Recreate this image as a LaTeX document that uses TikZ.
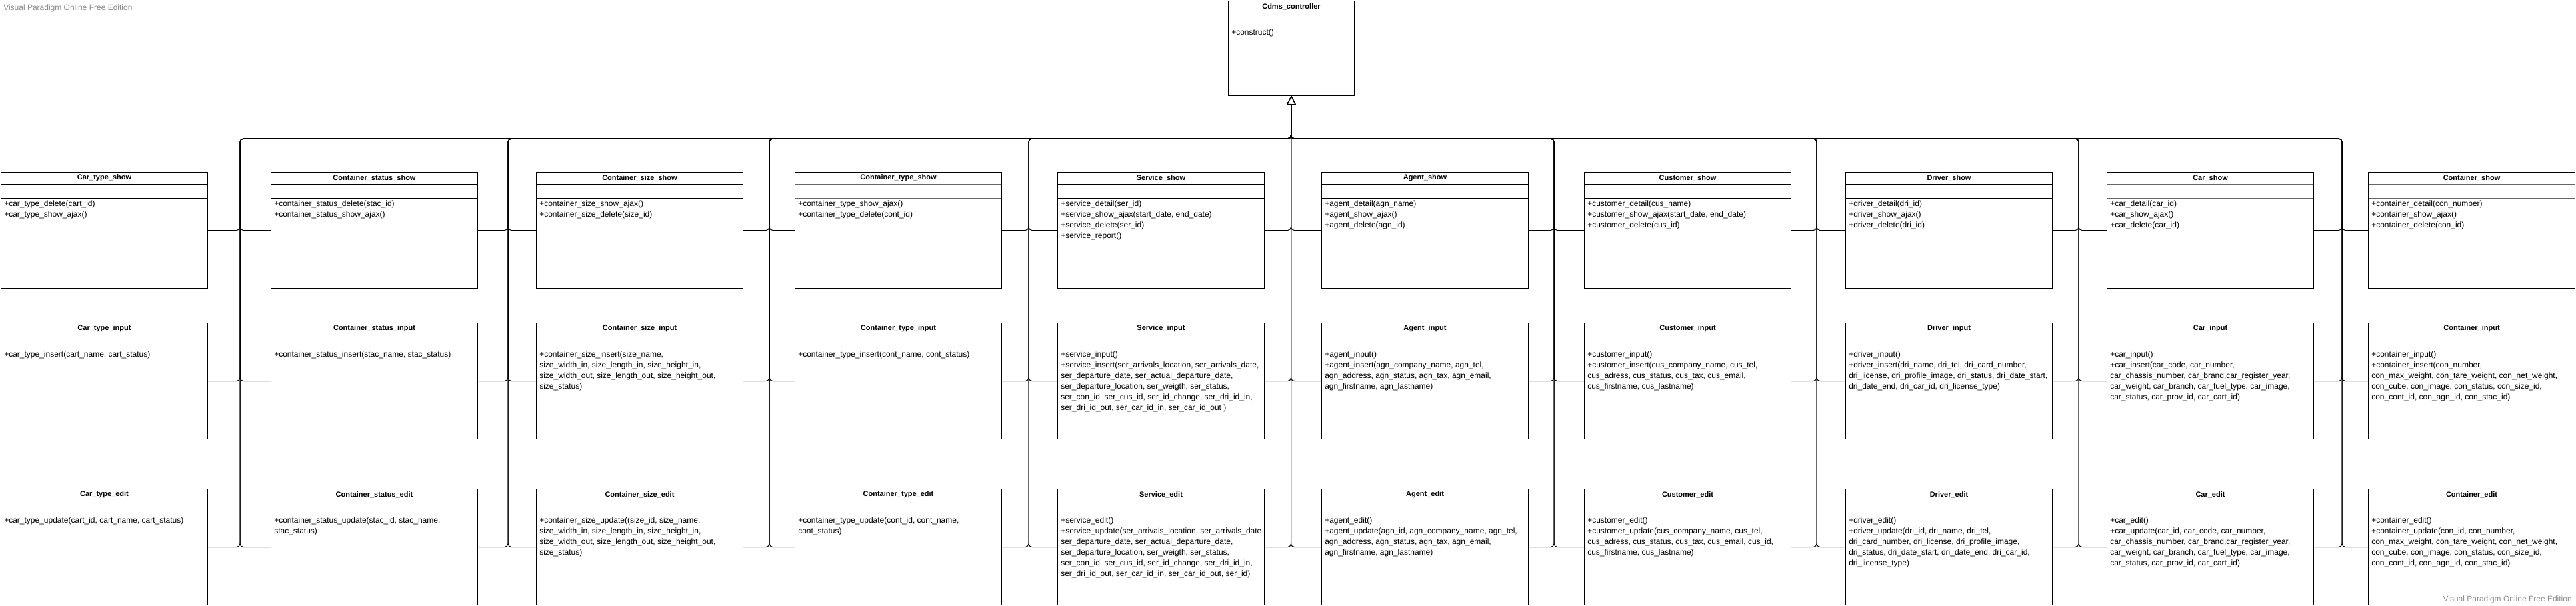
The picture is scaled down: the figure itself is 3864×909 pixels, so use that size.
\documentclass[tikz,border=0pt]{standalone}
\usepackage{fontspec}
\setmainfont{Liberation Sans}
\usepackage{tikz}
\usetikzlibrary{arrows.meta}
\tikzset{cls/.style={rectangle, draw, fill=white, line width=0.75pt, inner sep=0pt, anchor=north west, minimum width=232.5pt, minimum height=130.5pt,
  path picture={\draw[line width=0.75pt,#1] ([yshift=-13.5pt]path picture bounding box.north west) -- ([yshift=-13.5pt]path picture bounding box.north east);
  \draw[line width=0.75pt,#1] ([yshift=-29.25pt]path picture bounding box.north west) -- ([yshift=-29.25pt]path picture bounding box.north east);}},
  cls/.default={black}}
\tikzstyle{ttl}=[anchor=center, inner sep=0pt, font=\fontsize{8.25}{10}\selectfont\bfseries]
\tikzstyle{ops}=[anchor=north west, align=left, inner xsep=3.75pt, inner ysep=2.5pt, font=\fontsize{9}{12}\selectfont]
\tikzstyle{wm}=[inner sep=0pt, text=black!45, font=\fontsize{9}{10}\selectfont]
\tikzstyle{link}=[draw, line width=0.75pt, rounded corners=3.75pt, -{Triangle[open,length=9.75pt,width=9.75pt,fill=white]}]

\begin{document}
\begin{tikzpicture}[x=0.75pt,y=-0.75pt]
\path[use as bounding box, fill=white] (0,0) rectangle (3864,909);

\node[wm, anchor=west] (wmtop) at (5,12) {Visual Paradigm Online Free Edition};

%Controller
\node[cls, minimum width=141.75pt, minimum height=106.5pt] (cdms) at (1842,1) {};
\node[ttl] at ([yshift=-6.75pt]cdms.north) {Cdms\_controller};
\node[ops] at ([yshift=-29.25pt]cdms.north west) {+construct()};

%bus points
\coordinate (top) at (1936.5,208);
\coordinate (t1) at (360,208);
\coordinate (t2) at (762,208);
\coordinate (t3) at (1154,208);
\coordinate (t4) at (1543,208);
\coordinate (t6) at (2331,208);
\coordinate (t7) at (2725,208);
\coordinate (t8) at (3118,208);
\coordinate (t9) at (3513,208);

%Row One
\node[cls] (cts) at (1,258) {};
\node[ttl] at ([yshift=-6.75pt]cts.north) {Car\_type\_show};
\node[ops] at ([yshift=-29.25pt]cts.north west) {+car\_type\_delete(cart\_id)\\+car\_type\_show\_ajax()};
\node[cls] (sts) at (406,258) {};
\node[ttl] at ([yshift=-6.75pt]sts.north) {Container\_status\_show};
\node[ops] at ([yshift=-29.25pt]sts.north west) {+container\_status\_delete(stac\_id)\\+container\_status\_show\_ajax()};
\node[cls] (szs) at (804,258) {};
\node[ttl] at ([yshift=-6.75pt]szs.north) {Container\_size\_show};
\node[ops] at ([yshift=-29.25pt]szs.north west) {+container\_size\_show\_ajax()\\+container\_size\_delete(size\_id)};
\node[cls={black!60,line width=1.2pt}] (tys) at (1192,258) {};
\node[ttl] at ([yshift=-6.75pt]tys.north) {Container\_type\_show};
\node[ops] at ([yshift=-29.25pt]tys.north west) {+container\_type\_show\_ajax()\\+container\_type\_delete(cont\_id)};
\node[cls] (svs) at (1586,258) {};
\node[ttl] at ([yshift=-6.75pt]svs.north) {Service\_show};
\node[ops] at ([yshift=-29.25pt]svs.north west) {+service\_detail(ser\_id)\\+service\_show\_ajax(start\_date, end\_date)\\+service\_delete(ser\_id)\\+service\_report()};
\node[cls] (ags) at (1982,258) {};
\node[ttl] at ([yshift=-6.75pt]ags.north) {Agent\_show};
\node[ops] at ([yshift=-29.25pt]ags.north west) {+agent\_detail(agn\_name)\\+agent\_show\_ajax()\\+agent\_delete(agn\_id)};
\node[cls] (cus) at (2376,258) {};
\node[ttl] at ([yshift=-6.75pt]cus.north) {Customer\_show};
\node[ops] at ([yshift=-29.25pt]cus.north west) {+customer\_detail(cus\_name)\\+customer\_show\_ajax(start\_date, end\_date)\\+customer\_delete(cus\_id)};
\node[cls] (drs) at (2768,258) {};
\node[ttl] at ([yshift=-6.75pt]drs.north) {Driver\_show};
\node[ops] at ([yshift=-29.25pt]drs.north west) {+driver\_detail(dri\_id)\\+driver\_show\_ajax()\\+driver\_delete(dri\_id)};
\node[cls={black!60,line width=1.2pt}] (cas) at (3160,258) {};
\node[ttl] at ([yshift=-6.75pt]cas.north) {Car\_show};
\node[ops] at ([yshift=-29.25pt]cas.north west) {+car\_detail(car\_id)\\+car\_show\_ajax()\\+car\_delete(car\_id)};
\node[cls={black!60,line width=1.2pt}] (cos) at (3552,258) {};
\node[ttl] at ([yshift=-6.75pt]cos.north) {Container\_show};
\node[ops] at ([yshift=-29.25pt]cos.north west) {+container\_detail(con\_number)\\+container\_show\_ajax()\\+container\_delete(con\_id)};

%Row Two
\node[cls] (cti) at (1,484) {};
\node[ttl] at ([yshift=-6.75pt]cti.north) {Car\_type\_input};
\node[ops] at ([yshift=-29.25pt]cti.north west) {+car\_type\_insert(cart\_name, cart\_status)};
\node[cls] (sti) at (406,484) {};
\node[ttl] at ([yshift=-6.75pt]sti.north) {Container\_status\_input};
\node[ops] at ([yshift=-29.25pt]sti.north west) {+container\_status\_insert(stac\_name, stac\_status)};
\node[cls] (szi) at (804,484) {};
\node[ttl] at ([yshift=-6.75pt]szi.north) {Container\_size\_input};
\node[ops] at ([yshift=-29.25pt]szi.north west) {+container\_size\_insert(size\_name,\\ size\_width\_in, size\_length\_in, size\_height\_in,\\ size\_width\_out, size\_length\_out, size\_height\_out,\\ size\_status)};
\node[cls={black!60,line width=1.2pt}] (tyi) at (1192,484) {};
\node[ttl] at ([yshift=-6.75pt]tyi.north) {Container\_type\_input};
\node[ops] at ([yshift=-29.25pt]tyi.north west) {+container\_type\_insert(cont\_name, cont\_status)};
\node[cls] (svi) at (1586,484) {};
\node[ttl] at ([yshift=-6.75pt]svi.north) {Service\_input};
\node[ops] at ([yshift=-29.25pt]svi.north west) {+service\_input()\\+service\_insert(ser\_arrivals\_location, ser\_arrivals\_date,\\ser\_departure\_date, ser\_actual\_departure\_date,\\ser\_departure\_location, ser\_weigth, ser\_status,\\ser\_con\_id, ser\_cus\_id, ser\_id\_change, ser\_dri\_id\_in,\\ser\_dri\_id\_out, ser\_car\_id\_in, ser\_car\_id\_out )};
\node[cls] (agi) at (1982,484) {};
\node[ttl] at ([yshift=-6.75pt]agi.north) {Agent\_input};
\node[ops] at ([yshift=-29.25pt]agi.north west) {+agent\_input()\\+agent\_insert(agn\_company\_name, agn\_tel,\\agn\_address, agn\_status, agn\_tax, agn\_email,\\agn\_firstname, agn\_lastname)};
\node[cls] (cui) at (2376,484) {};
\node[ttl] at ([yshift=-6.75pt]cui.north) {Customer\_input};
\node[ops] at ([yshift=-29.25pt]cui.north west) {+customer\_input()\\+customer\_insert(cus\_company\_name, cus\_tel,\\cus\_adress, cus\_status, cus\_tax, cus\_email,\\cus\_firstname, cus\_lastname)};
\node[cls] (dri) at (2768,484) {};
\node[ttl] at ([yshift=-6.75pt]dri.north) {Driver\_input};
\node[ops] at ([yshift=-29.25pt]dri.north west) {+driver\_input()\\+driver\_insert(dri\_name, dri\_tel, dri\_card\_number,\\dri\_license, dri\_profile\_image, dri\_status, dri\_date\_start,\\dri\_date\_end, dri\_car\_id, dri\_license\_type)};
\node[cls={black!60,line width=1.2pt}] (cai) at (3160,484) {};
\node[ttl] at ([yshift=-6.75pt]cai.north) {Car\_input};
\node[ops] at ([yshift=-29.25pt]cai.north west) {+car\_input()\\+car\_insert(car\_code, car\_number,\\car\_chassis\_number, car\_brand,car\_register\_year,\\car\_weight, car\_branch, car\_fuel\_type, car\_image,\\car\_status, car\_prov\_id, car\_cart\_id)};
\node[cls={black!60,line width=1.2pt}] (coi) at (3552,484) {};
\node[ttl] at ([yshift=-6.75pt]coi.north) {Container\_input};
\node[ops] at ([yshift=-29.25pt]coi.north west) {+container\_input()\\+container\_insert(con\_number,\\con\_max\_weight, con\_tare\_weight, con\_net\_weight,\\con\_cube, con\_image, con\_status, con\_size\_id,\\con\_cont\_id, con\_agn\_id, con\_stac\_id)};

%Row Three
\node[cls] (cte) at (1,733) {};
\node[ttl] at ([yshift=-6.75pt]cte.north) {Car\_type\_edit};
\node[ops] at ([yshift=-29.25pt]cte.north west) {+car\_type\_update(cart\_id, cart\_name, cart\_status)};
\node[cls] (ste) at (406,733) {};
\node[ttl] at ([yshift=-6.75pt]ste.north) {Container\_status\_edit};
\node[ops] at ([yshift=-29.25pt]ste.north west) {+container\_status\_update(stac\_id, stac\_name,\\stac\_status)};
\node[cls] (sze) at (804,733) {};
\node[ttl] at ([yshift=-6.75pt]sze.north) {Container\_size\_edit};
\node[ops] at ([yshift=-29.25pt]sze.north west) {+container\_size\_update((size\_id, size\_name,\\ size\_width\_in, size\_length\_in, size\_height\_in,\\ size\_width\_out, size\_length\_out, size\_height\_out,\\ size\_status)};
\node[cls={black!60,line width=1.2pt}] (tye) at (1192,733) {};
\node[ttl] at ([yshift=-6.75pt]tye.north) {Container\_type\_edit};
\node[ops] at ([yshift=-29.25pt]tye.north west) {+container\_type\_update(cont\_id, cont\_name,\\cont\_status)};
\node[cls] (sve) at (1586,733) {};
\node[ttl] at ([yshift=-6.75pt]sve.north) {Service\_edit};
\node[ops] at ([yshift=-29.25pt]sve.north west) {+service\_edit()\\+service\_update(ser\_arrivals\_location, ser\_arrivals\_date\\ser\_departure\_date, ser\_actual\_departure\_date,\\ser\_departure\_location, ser\_weigth, ser\_status,\\ser\_con\_id, ser\_cus\_id, ser\_id\_change, ser\_dri\_id\_in,\\ser\_dri\_id\_out, ser\_car\_id\_in, ser\_car\_id\_out, ser\_id)};
\node[cls] (age) at (1982,733) {};
\node[ttl] at ([yshift=-6.75pt]age.north) {Agent\_edit};
\node[ops] at ([yshift=-29.25pt]age.north west) {+agent\_edit()\\+agent\_update(agn\_id, agn\_company\_name, agn\_tel,\\agn\_address, agn\_status, agn\_tax, agn\_email,\\agn\_firstname, agn\_lastname)};
\node[cls] (cue) at (2376,733) {};
\node[ttl] at ([yshift=-6.75pt]cue.north) {Customer\_edit};
\node[ops] at ([yshift=-29.25pt]cue.north west) {+customer\_edit()\\+customer\_update(cus\_company\_name, cus\_tel,\\cus\_adress, cus\_status, cus\_tax, cus\_email, cus\_id,\\cus\_firstname, cus\_lastname)};
\node[cls] (dre) at (2768,733) {};
\node[ttl] at ([yshift=-6.75pt]dre.north) {Driver\_edit};
\node[ops] at ([yshift=-29.25pt]dre.north west) {+driver\_edit()\\+driver\_update(dri\_id, dri\_name, dri\_tel,\\dri\_card\_number, dri\_license, dri\_profile\_image,\\dri\_status, dri\_date\_start, dri\_date\_end, dri\_car\_id,\\ dri\_license\_type)};
\node[cls={black!60,line width=1.2pt}] (cae) at (3160,733) {};
\node[ttl] at ([yshift=-6.75pt]cae.north) {Car\_edit};
\node[ops] at ([yshift=-29.25pt]cae.north west) {+car\_edit()\\+car\_update(car\_id, car\_code, car\_number,\\car\_chassis\_number, car\_brand,car\_register\_year,\\car\_weight, car\_branch, car\_fuel\_type, car\_image,\\car\_status, car\_prov\_id, car\_cart\_id)};
\node[cls={black!60,line width=1.2pt}] (coe) at (3552,733) {};
\node[ttl] at ([yshift=-6.75pt]coe.north) {Container\_edit};
\node[ops] at ([yshift=-29.25pt]coe.north west) {+container\_edit()\\+container\_update(con\_id, con\_number,\\con\_max\_weight, con\_tare\_weight, con\_net\_weight,\\con\_cube, con\_image, con\_status, con\_size\_id,\\con\_cont\_id, con\_agn\_id, con\_stac\_id)};

\node[wm, anchor=east] (wmbot) at (3858,899) {Visual Paradigm Online Free Edition};

%generalization links
\draw[link] (cts.east) -| (t1) -- (top) -- (cdms.south);
\draw[link] (cti.east) -| (t1) -- (top) -- (cdms.south);
\draw[link] (cte.east) -| (t1) -- (top) -- (cdms.south);
\draw[link] (sts.west) -| (t1) -- (top) -- (cdms.south);
\draw[link] (sti.west) -| (t1) -- (top) -- (cdms.south);
\draw[link] (ste.west) -| (t1) -- (top) -- (cdms.south);

\draw[link] (sts.east) -| (t2) -- (top) -- (cdms.south);
\draw[link] (sti.east) -| (t2) -- (top) -- (cdms.south);
\draw[link] (ste.east) -| (t2) -- (top) -- (cdms.south);
\draw[link] (szs.west) -| (t2) -- (top) -- (cdms.south);
\draw[link] (szi.west) -| (t2) -- (top) -- (cdms.south);
\draw[link] (sze.west) -| (t2) -- (top) -- (cdms.south);

\draw[link] (szs.east) -| (t3) -- (top) -- (cdms.south);
\draw[link] (szi.east) -| (t3) -- (top) -- (cdms.south);
\draw[link] (sze.east) -| (t3) -- (top) -- (cdms.south);
\draw[link] (tys.west) -| (t3) -- (top) -- (cdms.south);
\draw[link] (tyi.west) -| (t3) -- (top) -- (cdms.south);
\draw[link] (tye.west) -| (t3) -- (top) -- (cdms.south);

\draw[link] (tys.east) -| (t4) -- (top) -- (cdms.south);
\draw[link] (tyi.east) -| (t4) -- (top) -- (cdms.south);
\draw[link] (tye.east) -| (t4) -- (top) -- (cdms.south);
\draw[link] (svs.west) -| (t4) -- (top) -- (cdms.south);
\draw[link] (svi.west) -| (t4) -- (top) -- (cdms.south);
\draw[link] (sve.west) -| (t4) -- (top) -- (cdms.south);

\draw[link] (svs.east) -| (top) -- (cdms.south);
\draw[link] (svi.east) -| (top) -- (cdms.south);
\draw[link] (sve.east) -| (top) -- (cdms.south);
\draw[link] (ags.west) -| (top) -- (cdms.south);
\draw[link] (agi.west) -| (top) -- (cdms.south);
\draw[link] (age.west) -| (top) -- (cdms.south);

\draw[link] (ags.east) -| (t6) -- (top) -- (cdms.south);
\draw[link] (agi.east) -| (t6) -- (top) -- (cdms.south);
\draw[link] (age.east) -| (t6) -- (top) -- (cdms.south);
\draw[link] (cus.west) -| (t6) -- (top) -- (cdms.south);
\draw[link] (cui.west) -| (t6) -- (top) -- (cdms.south);
\draw[link] (cue.west) -| (t6) -- (top) -- (cdms.south);

\draw[link] (cus.east) -| (t7) -- (top) -- (cdms.south);
\draw[link] (cui.east) -| (t7) -- (top) -- (cdms.south);
\draw[link] (cue.east) -| (t7) -- (top) -- (cdms.south);
\draw[link] (drs.west) -| (t7) -- (top) -- (cdms.south);
\draw[link] (dri.west) -| (t7) -- (top) -- (cdms.south);
\draw[link] (dre.west) -| (t7) -- (top) -- (cdms.south);

\draw[link] (drs.east) -| (t8) -- (top) -- (cdms.south);
\draw[link] (dri.east) -| (t8) -- (top) -- (cdms.south);
\draw[link] (dre.east) -| (t8) -- (top) -- (cdms.south);
\draw[link] (cas.west) -| (t8) -- (top) -- (cdms.south);
\draw[link] (cai.west) -| (t8) -- (top) -- (cdms.south);
\draw[link] (cae.west) -| (t8) -- (top) -- (cdms.south);

\draw[link] (cas.east) -| (t9) -- (top) -- (cdms.south);
\draw[link] (cai.east) -| (t9) -- (top) -- (cdms.south);
\draw[link] (cae.east) -| (t9) -- (top) -- (cdms.south);
\draw[link] (cos.west) -| (t9) -- (top) -- (cdms.south);
\draw[link] (coi.west) -| (t9) -- (top) -- (cdms.south);
\draw[link] (coe.west) -| (t9) -- (top) -- (cdms.south);

\end{tikzpicture}
\end{document}
